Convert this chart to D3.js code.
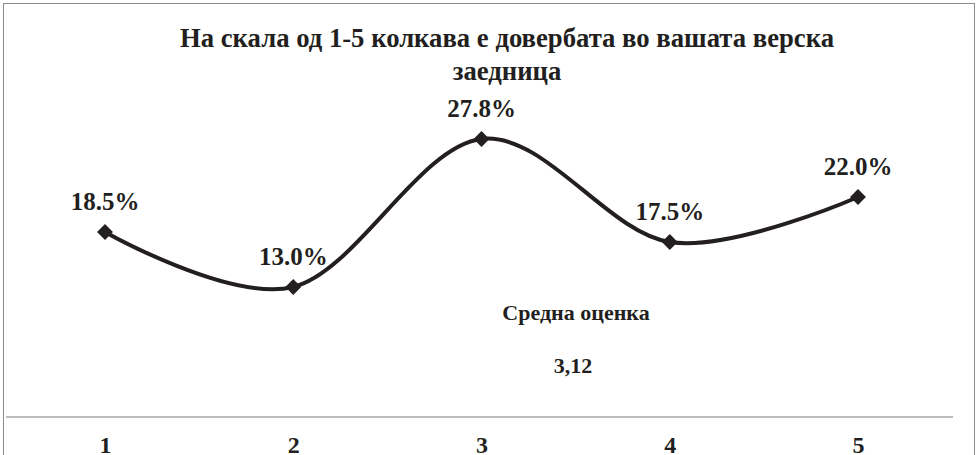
<!DOCTYPE html>
<html><head><meta charset="utf-8">
<script src="https://cdn.jsdelivr.net/npm/d3@7"></script>
<style>body{margin:0;background:#fff}svg{display:block}</style>
</head><body>
<script>
const categories = ["1","2","3","4","5"];
const values = [18.5, 13.0, 27.8, 17.5, 22.0];
const titleLines = ["На скала од 1-5 колкава е довербата во вашата верска", "заедница"];
const noteLabel = "Средна оценка";
const noteValue = "3,12";

const W = 978, H = 455;
const svg = d3.select("body").append("svg").attr("width", W).attr("height", H);
const font = "'Liberation Serif','Times New Roman',serif";
const ink = "#231f20";

svg.append("rect").attr("x", 3.5).attr("y", 3.5).attr("width", 971).attr("height", 460)
  .attr("fill", "#fff").attr("stroke", "#8c8c8c").attr("stroke-width", 1);

const x = d3.scalePoint().domain(categories).range([105, 858]);
const y = d3.scaleLinear().domain([0, 30]).range([417, 117]);

svg.append("line").attr("x1", 6).attr("x2", 953).attr("y1", y(0)).attr("y2", y(0))
  .attr("stroke", "#a6a6a6").attr("stroke-width", 1.5);

const xAxis = svg.append("g").attr("transform", `translate(0,${y(0)})`)
  .call(d3.axisBottom(x).tickSize(0).tickPadding(0));
xAxis.select(".domain").remove();
xAxis.selectAll("text").attr("dy", null).attr("y", 36)
  .attr("font-family", font).attr("font-weight", "bold").attr("font-size", 24).attr("fill", ink);

const title = svg.append("text").attr("text-anchor", "middle")
  .attr("font-family", font).attr("font-weight", "bold").attr("font-size", 26.7).attr("fill", ink);
titleLines.forEach((t, i) => title.append("tspan").attr("x", 507).attr("y", 47 + i * 33).text(t));

const pts = categories.map((c, i) => [x(c), y(values[i])]);
svg.append("path").attr("d", d3.line().curve(d3.curveCatmullRom.alpha(0))(pts))
  .attr("fill", "none").attr("stroke", ink).attr("stroke-width", 4);

svg.selectAll(".mk").data(pts).enter().append("path")
  .attr("transform", d => `translate(${d[0]},${d[1]})`)
  .attr("d", d3.symbol(d3.symbolDiamond2, 160)).attr("fill", ink);

svg.selectAll(".lbl").data(values).enter().append("text")
  .attr("x", (d, i) => x(categories[i])).attr("y", d => y(d) - 22)
  .attr("text-anchor", "middle").attr("font-family", font).attr("font-weight", "bold")
  .attr("font-size", 25).attr("fill", ink).text(d => d.toFixed(1) + "%");

svg.append("text").attr("x", 576).attr("y", 320).attr("text-anchor", "middle")
  .attr("font-family", font).attr("font-weight", "bold").attr("font-size", 22).attr("fill", ink).text(noteLabel);
svg.append("text").attr("x", 573).attr("y", 373).attr("text-anchor", "middle")
  .attr("font-family", font).attr("font-weight", "bold").attr("font-size", 22).attr("fill", ink).text(noteValue);
</script>
</body></html>
